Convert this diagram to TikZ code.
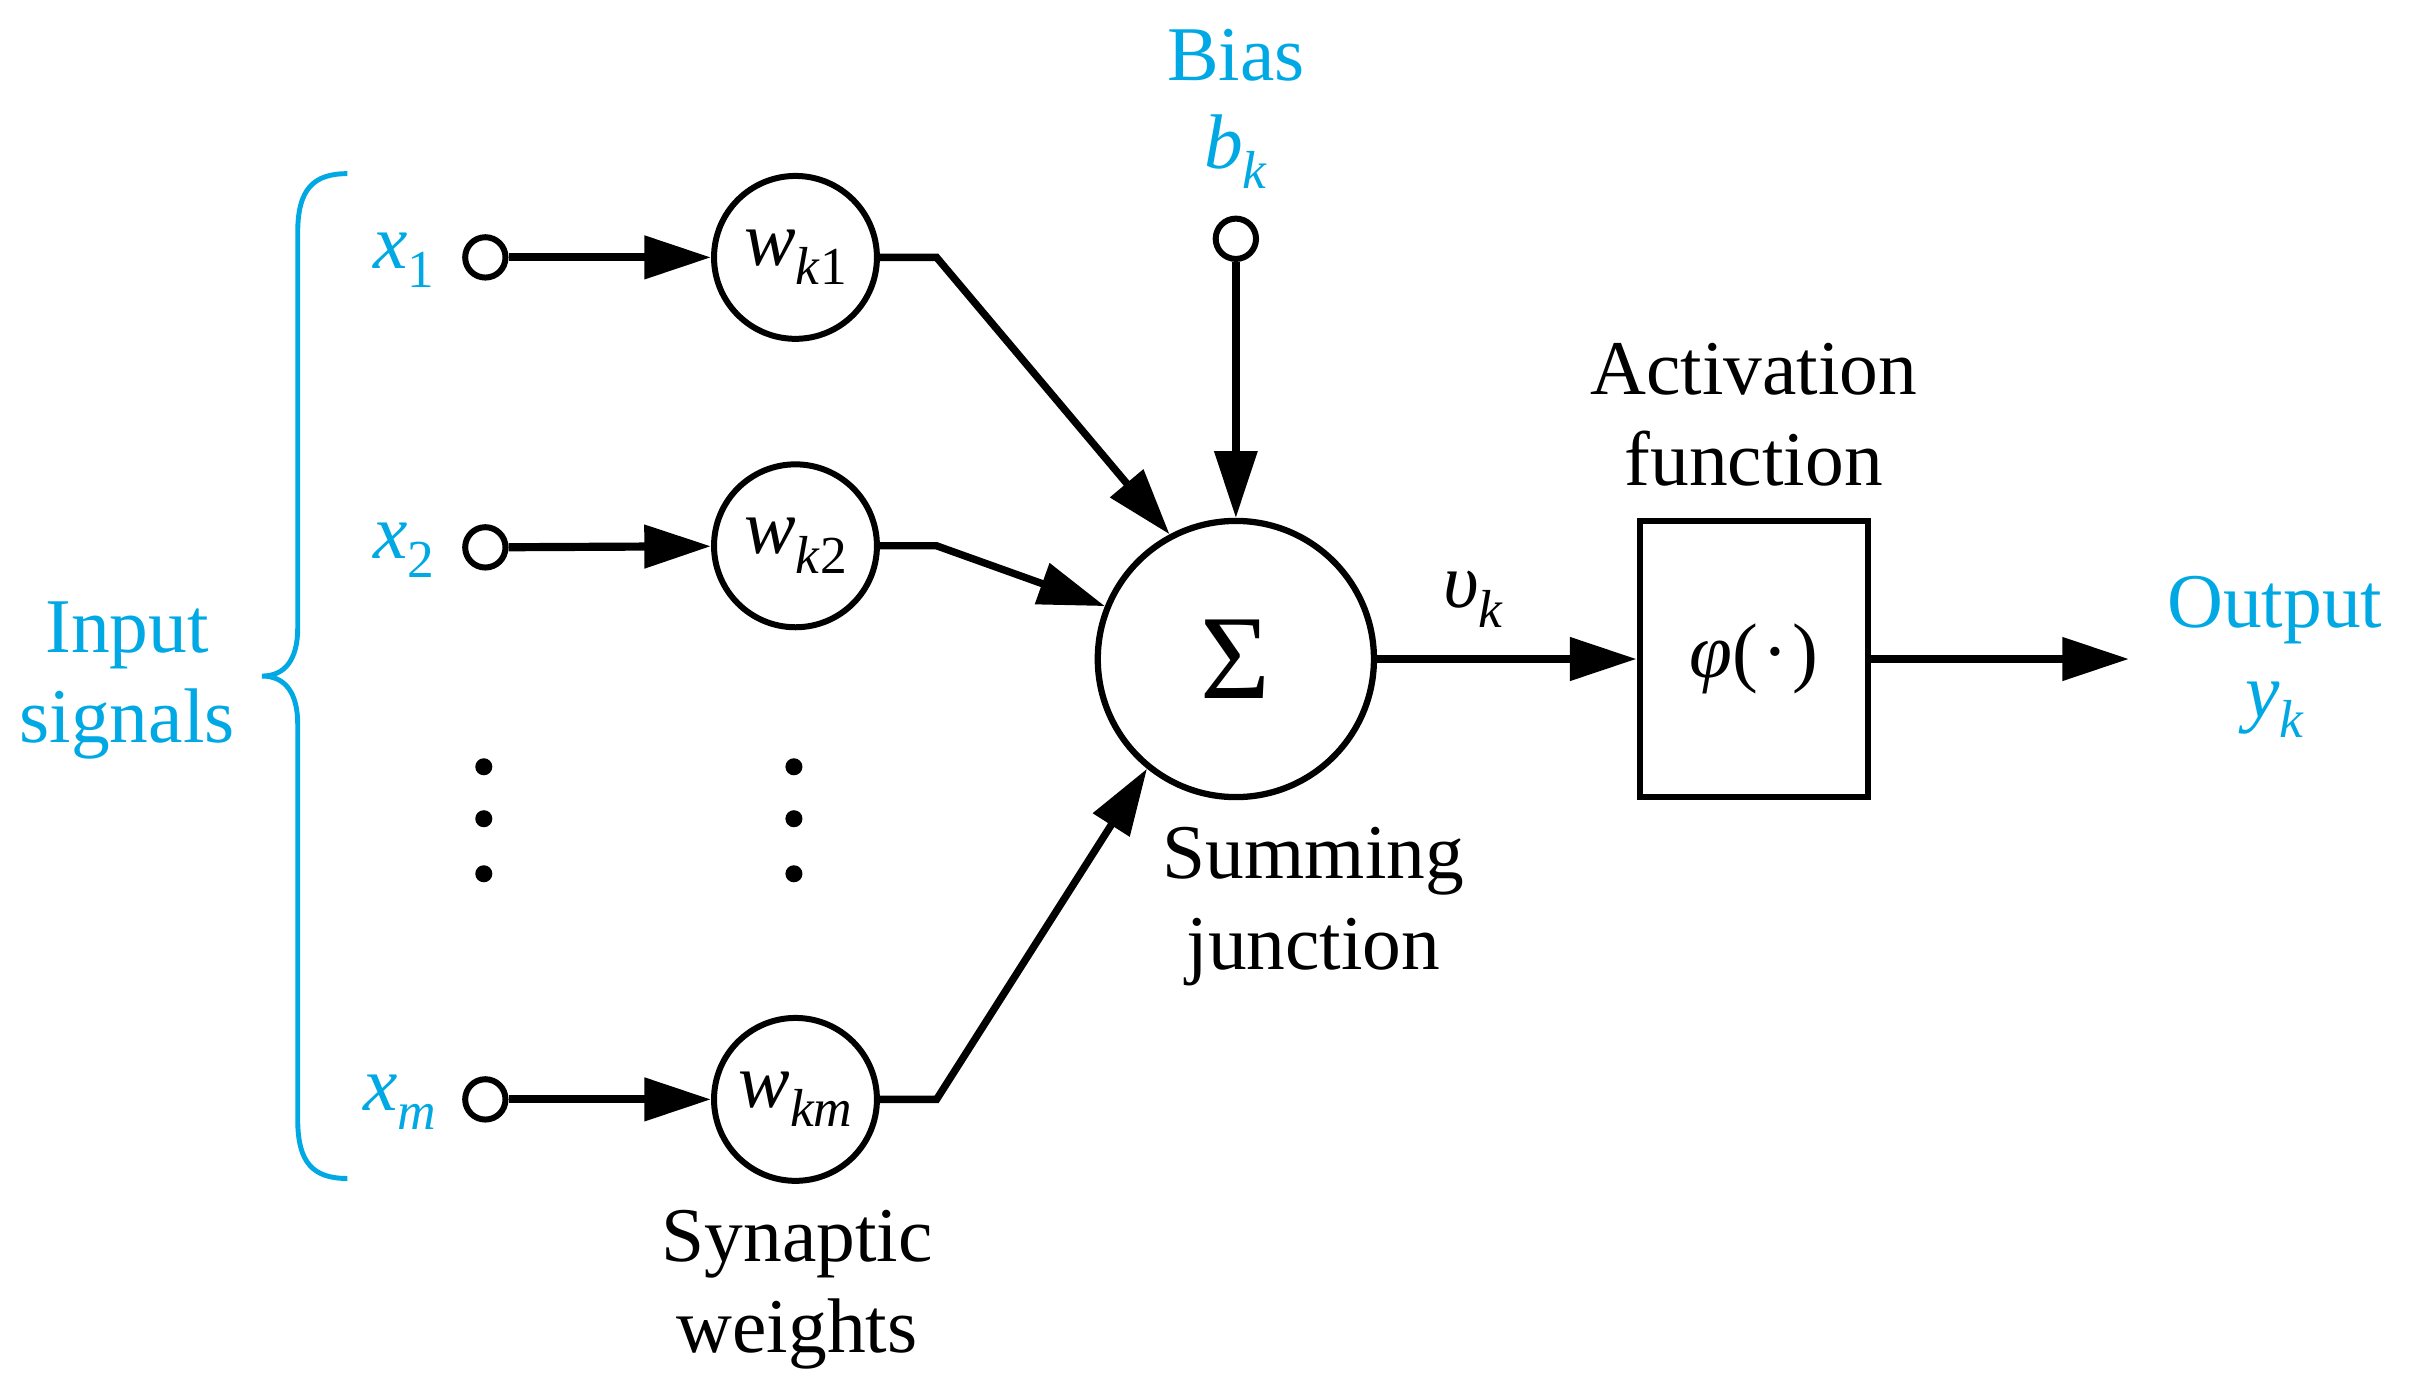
\documentclass[tikz,border=0pt]{standalone}
\usepackage{fontspec}
\setmainfont{Liberation Serif}
\usetikzlibrary{arrows.meta}
\definecolor{sigcyan}{RGB}{0,168,228}
\newcommand{\sbs}[1]{\raisebox{-3.6pt}{\fontsize{9.8}{9.8}\selectfont #1}}
\begin{document}
\begin{tikzpicture}[x=0.01cm,y=-0.01cm,
  txt/.style={font=\fontsize{14.2}{16.6}\selectfont, inner sep=0pt, align=center},
  cyantxt/.style={txt, text=sigcyan},
  inpt/.style={circle, draw, line width=1.1pt, minimum size=0.26cm, inner sep=0pt, fill=white},
  wnode/.style={circle, draw, line width=1.1pt, minimum size=1.05cm, inner sep=0pt, font=\fontsize{14.2}{16.6}\selectfont},
  sumnode/.style={circle, draw, line width=1.15pt, minimum size=1.78cm, inner sep=0pt},
  actbox/.style={rectangle, draw, line width=1.15pt, minimum width=1.47cm, minimum height=1.78cm, inner sep=0pt, font=\fontsize{14.2}{16.6}\selectfont},
  dotnode/.style={circle, fill, minimum size=0.11cm, inner sep=0pt},
  arr/.style={line width=1.5pt, -{Triangle[length=0.43cm,width=0.27cm]}},
  wire/.style={line width=1.35pt, -{Triangle[length=0.43cm,width=0.27cm]}, line join=miter}
]
\path[use as bounding box] (0,0) rectangle (1560,901.6);

% input terminals
\node[inpt] (x1) at (313,166) {};
\node[inpt] (x2) at (313,353) {};
\node[inpt] (xm) at (313,709) {};
\node[cyantxt, anchor=base east] (lx1) at (281,173) {\textit{x}\sbs{1}};
\node[cyantxt, anchor=base east] (lx2) at (281,360) {\textit{x}\sbs{2}};
\node[cyantxt, anchor=base east] (lxm) at (282,716) {\textit{x}\sbs{\textit{m}}};

% weights
\node[wnode] (w1) at (513,166) {\textit{w}\sbs{\textit{k}1}};
\node[wnode] (w2) at (513,352) {\textit{w}\sbs{\textit{k}2}};
\node[wnode] (wm) at (513,709) {\textit{w}\sbs{\textit{km}}};

% dots
\node[dotnode] (d1) at (312,494.5) {};
\node[dotnode] (d2) at (312,528) {};
\node[dotnode] (d3) at (312,563.5) {};
\node[dotnode] (e1) at (512,494.5) {};
\node[dotnode] (e2) at (512,528) {};
\node[dotnode] (e3) at (512,563.5) {};

% summing junction
\node[sumnode] (sum) at (797,425) {\fontsize{22}{22}\selectfont Σ};
\node[inpt] (bias) at (797,154) {};
\node[cyantxt, anchor=base] (biaslbl) at (797,52) {Bias};
\node[cyantxt, anchor=base] (bk) at (797,109) {\textit{b}\sbs{\textit{k}}};

% activation
\node[actbox] (act) at (1131,425) {\textit{φ}(\kern0.8pt·\kern0.8pt)};
\node[txt, anchor=base] (actlbl) at (1131,313) {Activation\\function};
\node[txt, anchor=base] (vk) at (950,392) {\textit{υ}\sbs{\textit{k}}};

% output
\coordinate (out) at (1373,425);
\node[cyantxt, anchor=base] (outlbl) at (1467,463) {Output\\\textit{y}\sbs{\textit{k}}};

% labels
\node[cyantxt, anchor=base] (inlbl) at (82,479) {Input\\signals};
\node[txt, anchor=base] (sumlbl) at (847,625) {Summing\\junction};
\node[txt, anchor=base] (synlbl) at (514,872) {Synaptic\\weights};

% corner coordinates
\coordinate (c1) at (604,166);
\coordinate (c2) at (604,352);
\coordinate (cm) at (604,709);

% connectors
\draw[arr] (x1) -- (w1);
\draw[arr] (x2) -- (w2);
\draw[arr] (xm) -- (wm);
\draw[wire] (w1) -- (c1) -- (sum.118);
\draw[wire] (w2) -- (c2) -- (sum.158);
\draw[wire] (wm) -- (cm) -- (sum.231);
\draw[wire] (bias) -- (sum);
\draw[arr] (sum) -- (act);
\draw[arr] (act) -- (out);

% brace
\draw[sigcyan, line width=0.9pt] (224,112) .. controls (202,112) and (192,122) .. (192,150)
  -- (192,405) .. controls (192,425) and (184,436) .. (169,436)
  .. controls (184,436) and (192,447) .. (192,467)
  -- (192,722) .. controls (192,750) and (202,760) .. (224,760);
\end{tikzpicture}
\end{document}
